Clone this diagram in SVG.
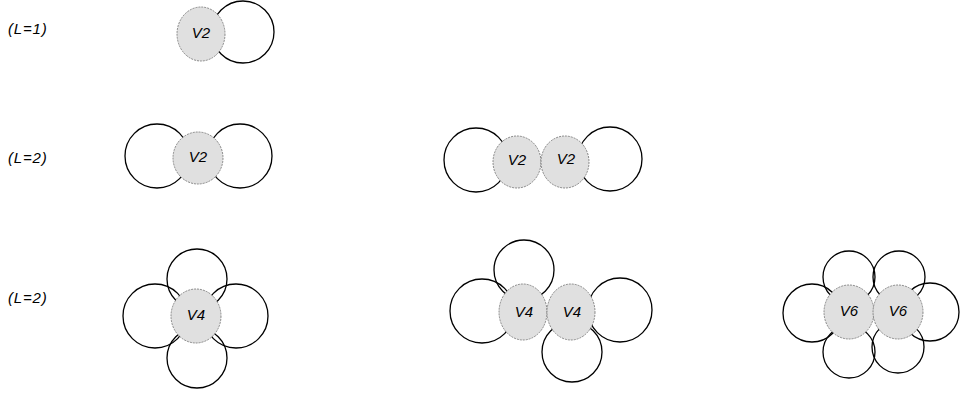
<svg xmlns="http://www.w3.org/2000/svg" width="962" height="399" viewBox="0 0 962 399">
<style>
.loop{fill:none;stroke:#000;stroke-width:1.3}
.v{fill:#e0e0e0;stroke:#6e6e6e;stroke-width:0.8;stroke-dasharray:2 1}
.t{font-family:"Liberation Sans",Arial,sans-serif;font-style:italic;font-size:15px;fill:#000;text-anchor:middle}
.lbl{font-family:"Liberation Sans",Arial,sans-serif;font-style:italic;font-size:15px;letter-spacing:0.8px;fill:#000}
</style>
<rect width="962" height="399" fill="#fff"/>
<g id="labels">
<text class="lbl" x="8" y="34">(L=1)</text>
<text class="lbl" x="8" y="163">(L=2)</text>
<text class="lbl" x="8" y="303">(L=2)</text>
</g>
<g id="loops">
<circle class="loop" cx="243" cy="32" r="31"/>
<circle class="loop" cx="157" cy="156" r="32"/>
<circle class="loop" cx="240" cy="156" r="32"/>
<circle class="loop" cx="476" cy="160" r="32"/>
<circle class="loop" cx="610" cy="159" r="32"/>
<circle class="loop" cx="197" cy="279" r="30"/>
<circle class="loop" cx="155" cy="316" r="32"/>
<circle class="loop" cx="236" cy="316" r="32"/>
<circle class="loop" cx="197" cy="358" r="30"/>
<circle class="loop" cx="524" cy="270" r="30"/>
<circle class="loop" cx="482" cy="311" r="32"/>
<circle class="loop" cx="620" cy="310" r="32"/>
<circle class="loop" cx="572" cy="352" r="30"/>
<circle class="loop" cx="849" cy="277" r="26"/>
<circle class="loop" cx="899" cy="277" r="26"/>
<circle class="loop" cx="812" cy="313" r="29"/>
<circle class="loop" cx="930" cy="312" r="29"/>
<circle class="loop" cx="849" cy="352" r="26"/>
<circle class="loop" cx="898" cy="347" r="26"/>
</g>
<g id="n1"><ellipse class="v" cx="201" cy="34" rx="24" ry="27"/><text class="t" x="201" y="38">V2</text></g>
<g id="n2"><ellipse class="v" cx="198" cy="158" rx="25" ry="26"/><text class="t" x="198" y="162">V2</text></g>
<g id="n3"><ellipse class="v" cx="517" cy="162" rx="24" ry="26"/><text class="t" x="517" y="165">V2</text></g>
<g id="n4"><ellipse class="v" cx="565" cy="162" rx="24" ry="26"/><text class="t" x="566" y="164">V2</text></g>
<g id="n5"><ellipse class="v" cx="196" cy="316" rx="25" ry="27"/><text class="t" x="196" y="320">V4</text></g>
<g id="n6"><ellipse class="v" cx="523" cy="312" rx="24" ry="28"/><text class="t" x="524" y="317">V4</text></g>
<g id="n7"><ellipse class="v" cx="571" cy="312" rx="24" ry="28"/><text class="t" x="572" y="317">V4</text></g>
<g id="n8"><ellipse class="v" cx="849" cy="312" rx="25" ry="27"/><text class="t" x="849" y="316">V6</text></g>
<g id="n9"><ellipse class="v" cx="898" cy="312" rx="25" ry="27"/><text class="t" x="898" y="316">V6</text></g>
</svg>
